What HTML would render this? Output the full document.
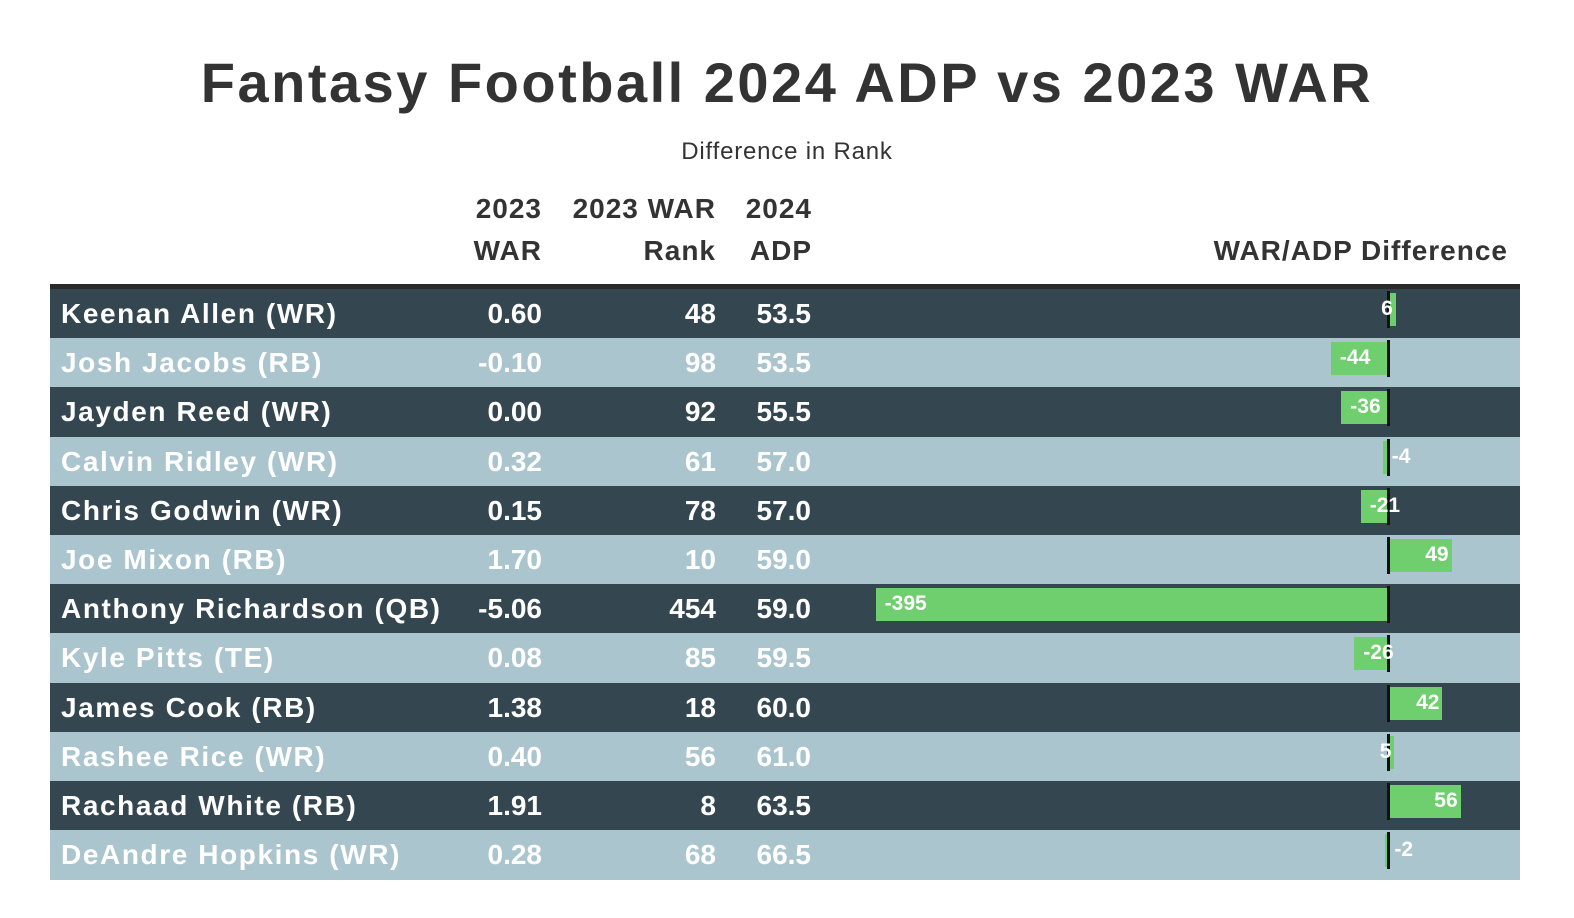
<!DOCTYPE html>
<html><head><meta charset="utf-8"><style>
html{overflow:hidden;}
body{margin:0;width:1574px;height:918px;background:#fff;position:relative;overflow:hidden;font-family:"Liberation Sans",sans-serif;}
.a{position:absolute;white-space:nowrap;}
.t{left:0;width:1574px;text-align:center;top:50px;font-size:56px;letter-spacing:2.5px;font-weight:bold;color:#333;}
.s{left:0;width:1574px;text-align:center;top:138px;font-size:24px;letter-spacing:0.8px;color:#333;}
.h{font-size:28px;font-weight:bold;color:#333;text-align:right;letter-spacing:1px;}
.row{position:absolute;left:50px;width:1470px;}
.c{position:absolute;font-size:28px;font-weight:bold;color:#fff;line-height:49px;top:0;white-space:nowrap;}
.n{letter-spacing:1.6px;}
.r{text-align:right;}
.bar{position:absolute;background:#6fcf6f;}
.z{position:absolute;background:#111;width:3px;}
.bl{position:absolute;font-size:21px;font-weight:bold;color:#fff;}
</style></head><body>
<div class="a t">Fantasy Football 2024 ADP vs 2023 WAR</div>
<div class="a s">Difference in Rank</div>
<div class="a h" style="left:400px;width:142px;top:193px">2023</div>
<div class="a h" style="left:400px;width:142px;top:235px">WAR</div>
<div class="a h" style="left:540px;width:176px;top:193px">2023 WAR</div>
<div class="a h" style="left:600px;width:116px;top:235px">Rank</div>
<div class="a h" style="left:700px;width:112px;top:193px">2024</div>
<div class="a h" style="left:700px;width:112px;top:235px">ADP</div>
<div class="a h" style="left:1100px;width:408px;top:235px">WAR/ADP Difference</div>
<div class="a" style="left:50px;width:1470px;top:284px;height:5px;background:#2a2a2a"></div>
<div id="rows"></div>
<script>
var d=[["Keenan Allen (WR)","0.60","48","53.5",6],["Josh Jacobs (RB)","-0.10","98","53.5",-44],["Jayden Reed (WR)","0.00","92","55.5",-36],["Calvin Ridley (WR)","0.32","61","57.0",-4],["Chris Godwin (WR)","0.15","78","57.0",-21],["Joe Mixon (RB)","1.70","10","59.0",49],["Anthony Richardson (QB)","-5.06","454","59.0",-395],["Kyle Pitts (TE)","0.08","85","59.5",-26],["James Cook (RB)","1.38","18","60.0",42],["Rashee Rice (WR)","0.40","56","61.0",5],["Rachaad White (RB)","1.91","8","63.5",56],["DeAndre Hopkins (WR)","0.28","68","66.5",-2]];
var h="",rh=49.2,z=1388,k=1.297;
d.forEach(function(r,i){
var y=289+i*rh,bg=i%2?"#abc5cf":"#34464f";
h+='<div class="row" style="top:'+y+'px;height:'+(rh+0.5)+'px;background:'+bg+'">';
h+='<div class="c n" style="left:11px">'+r[0]+'</div>';
h+='<div class="c r" style="left:392px;width:100px">'+r[1]+'</div>';
h+='<div class="c r" style="left:566px;width:100px">'+r[2]+'</div>';
h+='<div class="c r" style="left:661px;width:100px">'+r[3]+'</div></div>';
var v=r[4],w=Math.abs(v)*k,x=v<0?z-w:z;
h+='<div class="bar" style="left:'+x+'px;top:'+(y+4)+'px;width:'+w+'px;height:33px"></div>';
h+='<div class="z" style="left:'+(z-1)+'px;top:'+(y+2)+'px;height:37px"></div>';
if(v<0)h+='<div class="bl" style="left:'+(x+9)+'px;top:'+(y+8)+'px">'+v+'</div>';
else h+='<div class="bl" style="left:'+(x+w-103)+'px;width:100px;text-align:right;top:'+(y+8)+'px">'+v+'</div>';
});
document.getElementById("rows").innerHTML=h;
</script>
</body></html>
